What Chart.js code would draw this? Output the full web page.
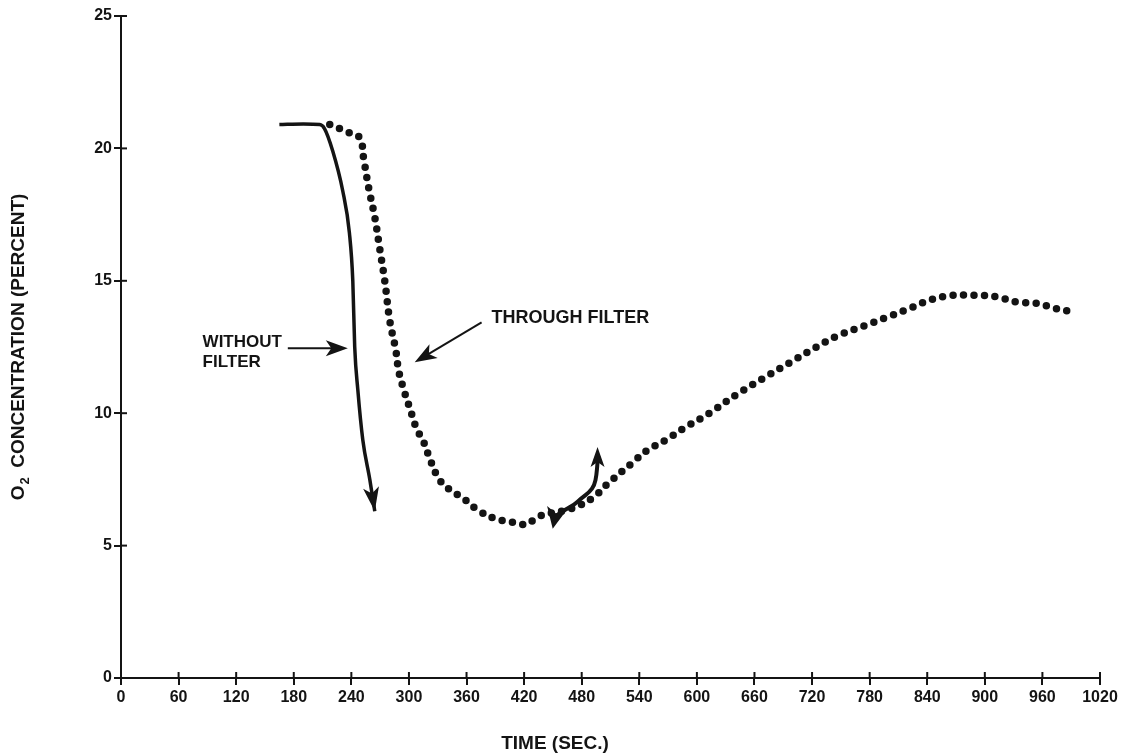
<!DOCTYPE html>
<html>
<head>
<meta charset="utf-8">
<script src="https://cdn.jsdelivr.net/npm/chart.js@4.4.1/dist/chart.umd.min.js"></script>
<style>
  html, body { margin: 0; padding: 0; background: #fff; }
  #wrap { width: 1134px; height: 756px; position: relative; }
</style>
</head>
<body>
<div id="wrap"><canvas id="o2Chart"></canvas></div>
<script>
// Datos
const xTicks = [0, 60, 120, 180, 240, 300, 360, 420, 480, 540, 600, 660, 720, 780, 840, 900, 960, 1020];
const yTicks = [0, 5, 10, 15, 20, 25];

// Sin filtro (línea continua)
const directSec = [165, 190, 207, 212, 220.6, 231, 238, 241.5, 243.5, 246.7, 251.9, 259.2, 264.4];
const directO2  = [20.9, 20.92, 20.9, 20.75, 19.9, 18.4, 16.8, 15.0, 12.5, 10.9, 9.0, 7.5, 6.3];

// A través del filtro (línea punteada)
const filterSec = [217.5, 237.3, 248.7, 252.9, 258.1, 264.4, 269.6, 274.8, 280.0, 286.2, 289.3, 294.5,
  300.8, 308.1, 314.3, 321.6, 329.9, 339.3, 356.0, 373.6, 391.3, 413.2, 422.6, 435.0, 469.4, 491.3,
  509.0, 531.9, 548.5, 568.3, 584.9, 613.0, 641.1, 668.2, 696.3, 724.4, 745.2, 774.4, 803.5, 824.3,
  845.1, 866.0, 888.8, 911.7, 932.5, 953.4, 974.2, 995.0];
const filterO2 = [20.9, 20.6, 20.4, 19.6, 18.5, 17.4, 16.2, 15.0, 13.5, 12.4, 11.6, 10.9,
  10.2, 9.4, 9.0, 8.3, 7.6, 7.2, 6.8, 6.3, 6.0, 5.85, 5.8, 6.1, 6.4, 6.8,
  7.4, 8.1, 8.6, 9.0, 9.4, 10.0, 10.7, 11.3, 11.9, 12.5, 12.9, 13.3, 13.7, 14.0,
  14.3, 14.45, 14.45, 14.4, 14.2, 14.15, 13.95, 13.8];

// Anotaciones (en unidades de datos)
const labelWithout = { x: 85, y1: 12.68, y2: 11.92, lines: ['WITHOUT', 'FILTER'] };
const arrowWithout = { from: [173.8, 12.45], to: [236.3, 12.45] };
const labelThrough = { x: 386, y: 13.6, text: 'THROUGH FILTER' };
const arrowThrough = { from: [375.7, 13.43], to: [306.0, 11.92] };
const wavySec = [456.9, 464.2, 471.5, 479.8, 488.1, 493.3, 495.4, 496.5];
const wavyO2  = [6.23, 6.38, 6.53, 6.79, 7.02, 7.28, 7.66, 8.15];
const wavyHeadLow = [449.8, 5.64];
const wavyHeadHigh = [496.5, 8.72];

const INK = '#141414';
const FONT = "'Liberation Sans', Arial, Helvetica, sans-serif";

function toPts(xs, ys) { return xs.map((x, i) => ({ x: x, y: ys[i] })); }

function arrowHead(c, tx, ty, ang, len, half) {
  c.save();
  c.translate(tx, ty);
  c.rotate(ang);
  c.beginPath();
  c.moveTo(0, 0);
  c.lineTo(-len, -half);
  c.lineTo(-len * 0.75, 0);
  c.lineTo(-len, half);
  c.closePath();
  c.fill();
  c.restore();
}

const annotations = {
  id: 'annotations',
  afterDraw(chart) {
    const c = chart.ctx;
    const xs = chart.scales.x, ys = chart.scales.y;
    const px = v => xs.getPixelForValue(v), py = v => ys.getPixelForValue(v);
    c.save();
    c.fillStyle = INK;
    c.strokeStyle = INK;

    // ticks que cruzan los ejes
    c.lineWidth = 2;
    xTicks.forEach(t => { c.beginPath(); c.moveTo(px(t), ys.bottom); c.lineTo(px(t), ys.bottom - 6); c.stroke(); });
    yTicks.forEach(t => { c.beginPath(); c.moveTo(xs.left, py(t)); c.lineTo(xs.left + 6, py(t)); c.stroke(); });

    // títulos de ejes
    c.textBaseline = 'middle';
    c.textAlign = 'center';
    c.font = 'bold 19px ' + FONT;
    c.fillText('TIME (SEC.)', 555, 744);

    c.save();
    c.translate(19, (ys.top + ys.bottom) / 2);
    c.rotate(-Math.PI / 2);
    c.textAlign = 'left';
    const main = '  CONCENTRATION (PERCENT)';
    c.font = 'bold 19px ' + FONT;
    const wO = c.measureText('O').width, wMain = c.measureText(main).width;
    c.font = 'bold 13px ' + FONT;
    const w2 = c.measureText('2').width;
    let x0 = -(wO + w2 + wMain) / 2;
    c.font = 'bold 19px ' + FONT;
    c.fillText('O', x0, 0);
    c.font = 'bold 13px ' + FONT;
    c.fillText('2', x0 + wO + 1, 6);
    c.font = 'bold 19px ' + FONT;
    c.fillText(main, x0 + wO + w2, 0);
    c.restore();

    // textos
    c.textAlign = 'left';
    c.font = 'bold 17px ' + FONT;
    c.fillText(labelWithout.lines[0], px(labelWithout.x), py(labelWithout.y1));
    c.fillText(labelWithout.lines[1], px(labelWithout.x), py(labelWithout.y2));
    c.font = 'bold 18px ' + FONT;
    c.fillText(labelThrough.text, px(labelThrough.x), py(labelThrough.y));

    // flechas rectas
    [arrowWithout, arrowThrough].forEach(a => {
      const x1 = px(a.from[0]), y1 = py(a.from[1]), x2 = px(a.to[0]), y2 = py(a.to[1]);
      const ang = Math.atan2(y2 - y1, x2 - x1);
      c.lineWidth = 2;
      c.beginPath();
      c.moveTo(x1, y1);
      c.lineTo(x2 - Math.cos(ang) * 12, y2 - Math.sin(ang) * 12);
      c.stroke();
      arrowHead(c, x2, y2, ang, 22, 8);
    });

    // punta de flecha de la curva sin filtro
    const n = directSec.length;
    const tx = px(directSec[n - 1]), ty = py(directO2[n - 1]);
    const bx = px(directSec[n - 2]), by = py(directO2[n - 2]);
    arrowHead(c, tx, ty, Math.atan2(ty - by, tx - bx), 24, 8);

    // flecha ondulada doble
    const wp = wavySec.map((s, i) => [px(s), py(wavyO2[i])]);
    c.lineWidth = 4;
    c.lineCap = 'round';
    c.beginPath();
    c.moveTo(px(wavyHeadLow[0]) + 4, py(wavyHeadLow[1]) - 12);
    c.lineTo(wp[0][0], wp[0][1]);
    for (let i = 1; i < wp.length - 1; i++) {
      const mx = (wp[i][0] + wp[i + 1][0]) / 2, my = (wp[i][1] + wp[i + 1][1]) / 2;
      c.quadraticCurveTo(wp[i][0], wp[i][1], mx, my);
    }
    c.lineTo(wp[wp.length - 1][0], wp[wp.length - 1][1]);
    c.stroke();
    arrowHead(c, px(wavyHeadLow[0]), py(wavyHeadLow[1]), Math.PI / 2 + 0.2, 21, 10);
    arrowHead(c, px(wavyHeadHigh[0]), py(wavyHeadHigh[1]), -Math.PI / 2, 20, 7);
    c.restore();
  }
};

new Chart(document.getElementById('o2Chart'), {
  type: 'line',
  data: {
    datasets: [
      {
        label: 'WITHOUT FILTER',
        data: toPts(directSec, directO2),
        borderColor: INK,
        borderWidth: 3.5,
        pointRadius: 0,
        cubicInterpolationMode: 'monotone',
        borderCapStyle: 'butt',
        fill: false
      },
      {
        label: 'THROUGH FILTER',
        data: toPts(filterSec, filterO2),
        borderColor: INK,
        borderWidth: 7.5,
        borderDash: [0, 10.5],
        borderCapStyle: 'round',
        pointRadius: 0,
        tension: 0.4,
        fill: false
      }
    ]
  },
  options: {
    responsive: true,
    maintainAspectRatio: false,
    animation: false,
    layout: { padding: { top: 16, right: 34, bottom: 0, left: 0 } },
    plugins: { legend: { display: false }, tooltip: { enabled: false } },
    scales: {
      x: {
        type: 'linear',
        min: 0,
        max: 1020,
        afterFit: s => { s.height = 78; },
        afterBuildTicks: s => { s.ticks = xTicks.map(v => ({ value: v })); },
        border: { color: INK, width: 2 },
        grid: { drawOnChartArea: false, drawTicks: true, tickLength: 7, color: INK, lineWidth: 2 },
        ticks: {
          color: INK,
          font: { family: FONT, size: 16, weight: 'bold' },
          padding: 3,
          maxRotation: 0,
          callback: v => String(v)
        }
      },
      y: {
        type: 'linear',
        min: 0,
        max: 25,
        afterFit: s => { s.width = 121; },
        afterBuildTicks: s => { s.ticks = yTicks.map(v => ({ value: v })); },
        border: { color: INK, width: 2 },
        grid: { drawOnChartArea: false, drawTicks: true, tickLength: 7, color: INK, lineWidth: 2 },
        ticks: {
          color: INK,
          font: { family: FONT, size: 16, weight: 'bold' },
          padding: 2,
          callback: v => String(v)
        }
      }
    }
  },
  plugins: [annotations]
});
</script>
</body>
</html>
